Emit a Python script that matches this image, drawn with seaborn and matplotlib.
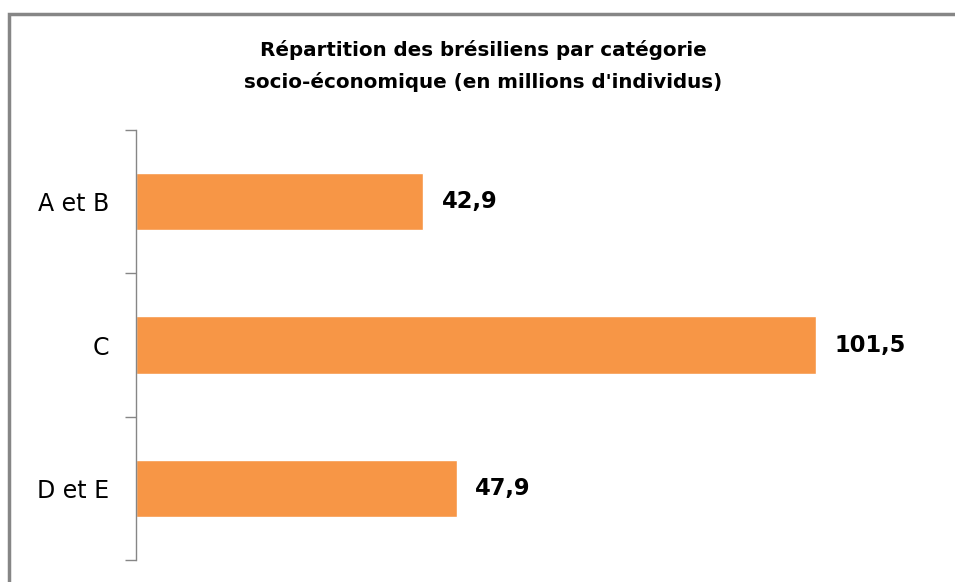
import matplotlib.pyplot as plt
import pandas as pd
import seaborn as sns
from matplotlib.patches import Rectangle

categories = ["A et B", "C", "D et E"]
values = [42.9, 101.5, 47.9]
value_labels = ["42,9", "101,5", "47,9"]

df = pd.DataFrame({"categorie": categories, "millions": values})

sns.set_style("white")
plt.rcParams["font.family"] = ["DejaVu Sans"]
plt.rcParams["text.color"] = "black"
plt.rcParams["ytick.labelcolor"] = "black"

fig = plt.figure(figsize=(9.55, 5.82), dpi=100)
ax = fig.add_axes([0.1424, 0.0378, 0.842, 0.7388])

sns.barplot(
    data=df,
    x="millions",
    y="categorie",
    orient="h",
    color="#F79646",
    width=0.4,
    saturation=1,
    ax=ax,
)
ax.bar_label(ax.containers[0], labels=value_labels, padding=13,
             fontsize=16.3, fontweight="bold", color="black")

ax.set_xlim(0, 120)
ax.set_ylim(2.5, -0.5)
ax.set_xlabel("")
ax.set_ylabel("")
ax.set_xticks([])

for side in ["top", "right", "bottom"]:
    ax.spines[side].set_visible(False)
ax.spines["left"].set_color("#868686")
ax.spines["left"].set_linewidth(1)

ax.set_yticks([0, 1, 2])
ax.set_yticklabels(categories, fontsize=17, color="black")
ax.tick_params(axis="y", which="major", length=0, pad=19)
ax.set_yticks([-0.5, 0.5, 1.5, 2.5], minor=True)
ax.tick_params(axis="y", which="minor", length=8, color="#868686", width=1,
               left=True)

fig.text(0.506, 0.8866,
         "Répartition des brésiliens par catégorie\nsocio-économique (en millions d'individus)",
         ha="center", va="center", fontsize=14.3, fontweight="bold",
         linespacing=1.75, color="black")

fig.patches.append(Rectangle((9 / 955, -0.1), 1.2, 1 - 14 / 582 + 0.1,
                             transform=fig.transFigure, fill=False,
                             edgecolor="#868686", linewidth=2.5))

plt.savefig("out.png", dpi=100)
